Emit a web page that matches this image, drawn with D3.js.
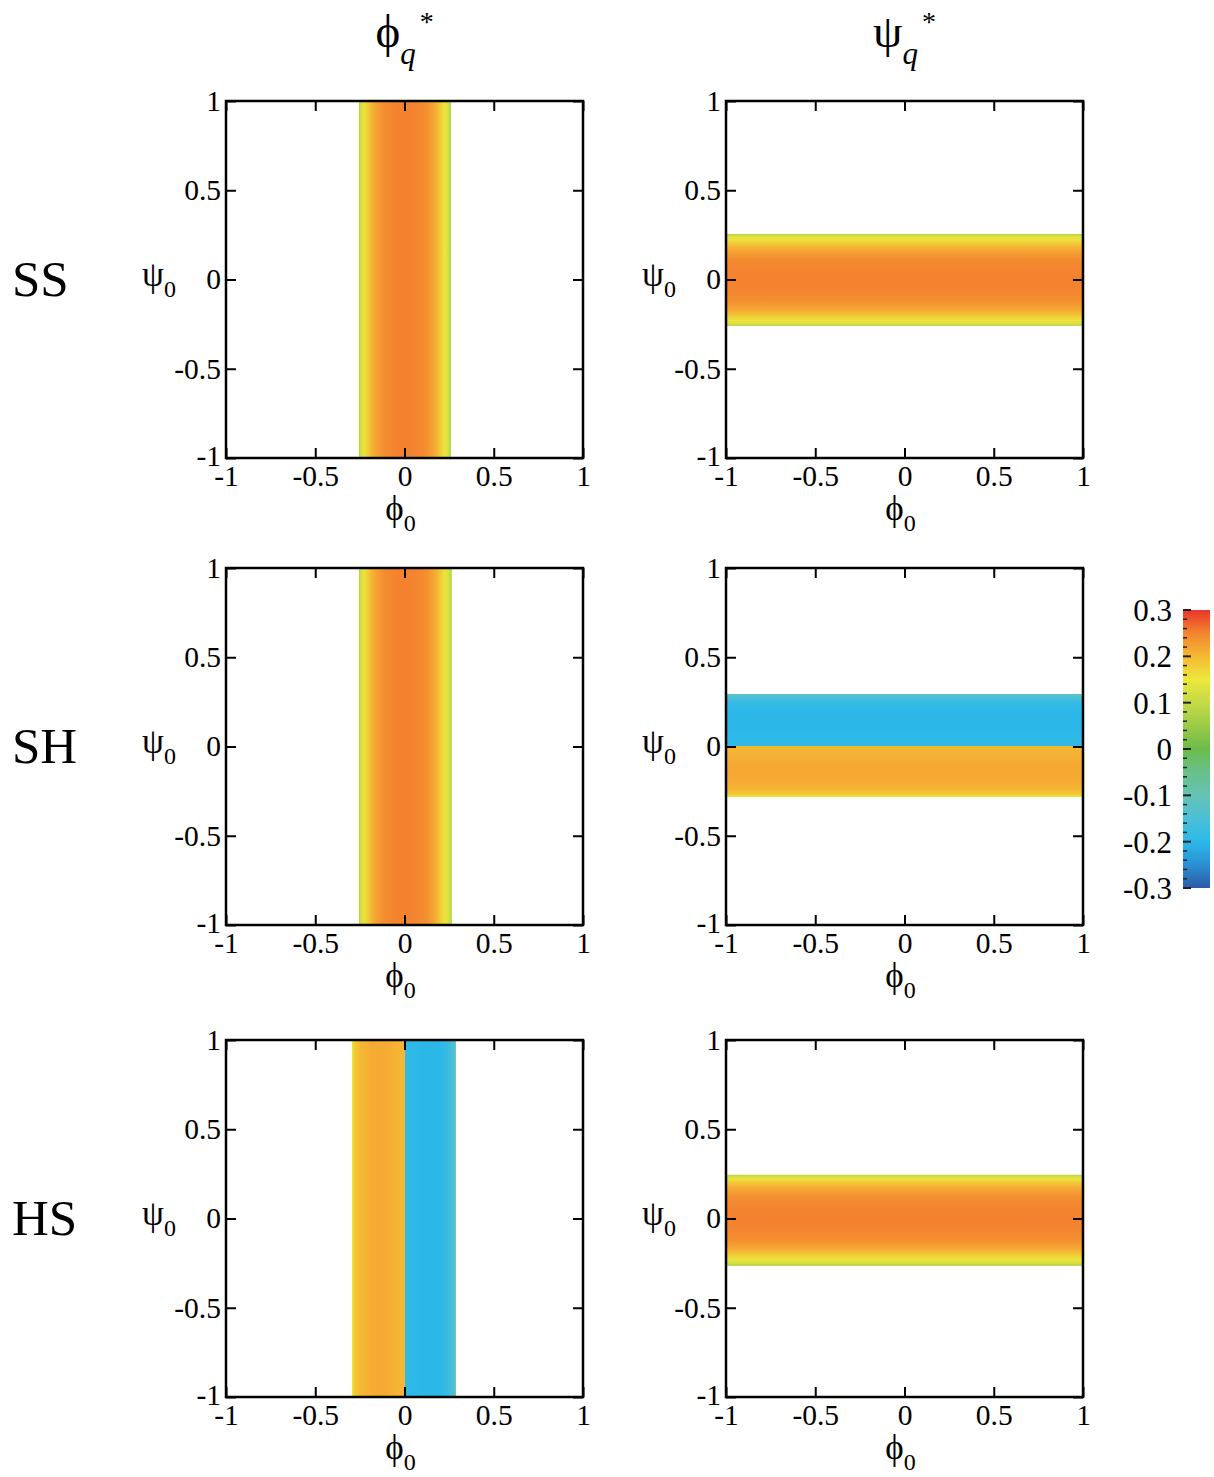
<!DOCTYPE html>
<html><head><meta charset="utf-8">
<script src="https://cdn.jsdelivr.net/npm/d3@7"></script>
<style>body{margin:0;background:#fff}svg{display:block}text{font-family:"Liberation Serif","Tinos","Times New Roman","DejaVu Serif",serif;fill:#000}</style>
</head><body>
<script>
// ---------- data ----------
const rowLabels = ["SS", "SH", "HS"];
const colSymbols = ["ϕ", "ψ"];
const axisTicks = [-1, -0.5, 0, 0.5, 1];
const axisTickLabels = ["-1", "-0.5", "0", "0.5", "1"];
const cbTicks = [-0.3, -0.2, -0.1, 0, 0.1, 0.2, 0.3];
const cbTickLabels = ["-0.3", "-0.2", "-0.1", "0", "0.1", "0.2", "0.3"];
const cbMinorTicks = [-0.28,-0.26,-0.24,-0.22,-0.18,-0.16,-0.14,-0.12,-0.08,-0.06,-0.04,-0.02,0.02,0.04,0.06,0.08,0.12,0.14,0.16,0.18,0.22,0.24,0.26,0.28];
const cmapValues = [-0.3, -0.25, -0.2, -0.15, -0.1, -0.05, 0, 0.05, 0.1, 0.15, 0.2, 0.25, 0.3];
const cmapColors = ["#2d5aa6", "#2b8fd2", "#2bb8e9", "#4cc0d6", "#65c3b5", "#68c08a", "#6cbb4b", "#9ccb47", "#c5da46", "#ece83c", "#f5b934", "#f4842f", "#e8352b"];

// band profiles: position along the varying axis (φ0 or ψ0) and value of the field
const ssPhiPos = [-0.255, -0.245, -0.225, -0.2, -0.17, -0.12, -0.06, 0, 0.06, 0.12, 0.17, 0.2, 0.225, 0.245, 0.26];
const ssPhiVal = [0.07, 0.12, 0.155, 0.185, 0.215, 0.24, 0.25, 0.252, 0.25, 0.24, 0.215, 0.185, 0.155, 0.12, 0.07];
const ssPsiPos = [-0.26, -0.25, -0.23, -0.2, -0.17, -0.12, -0.06, 0, 0.06, 0.12, 0.17, 0.2, 0.225, 0.245, 0.255];
const ssPsiVal = [0.07, 0.12, 0.155, 0.185, 0.215, 0.24, 0.25, 0.252, 0.25, 0.24, 0.215, 0.185, 0.155, 0.12, 0.07];
const shPhiPos = [-0.255, -0.245, -0.225, -0.2, -0.17, -0.12, -0.06, 0, 0.06, 0.12, 0.17, 0.2, 0.225, 0.25, 0.265];
const shPhiVal = [0.07, 0.12, 0.155, 0.185, 0.215, 0.24, 0.25, 0.252, 0.25, 0.24, 0.215, 0.185, 0.155, 0.12, 0.07];
const shPsiPos = [-0.283, -0.27, -0.24, -0.18, -0.1, 0, 0, 0.1, 0.2, 0.25, 0.275, 0.294];
const shPsiVal = [0.15, 0.18, 0.205, 0.215, 0.215, 0.2, -0.19, -0.2, -0.2, -0.18, -0.15, -0.12];
const hsPhiPos = [-0.294, -0.28, -0.25, -0.18, -0.1, 0, 0, 0.1, 0.2, 0.24, 0.27, 0.288];
const hsPhiVal = [0.15, 0.18, 0.2, 0.213, 0.213, 0.2, -0.19, -0.2, -0.2, -0.18, -0.15, -0.11];
const hsPsiPos = [-0.265, -0.25, -0.23, -0.2, -0.17, -0.12, -0.06, 0, 0.06, 0.12, 0.17, 0.2, 0.22, 0.235, 0.245];
const hsPsiVal = [0.07, 0.12, 0.155, 0.185, 0.215, 0.24, 0.25, 0.252, 0.25, 0.24, 0.215, 0.185, 0.155, 0.12, 0.07];

const panels = [
  {row: 0, col: 0, dir: "x", pos: ssPhiPos, val: ssPhiVal},
  {row: 0, col: 1, dir: "y", pos: ssPsiPos, val: ssPsiVal},
  {row: 1, col: 0, dir: "x", pos: shPhiPos, val: shPhiVal},
  {row: 1, col: 1, dir: "y", pos: shPsiPos, val: shPsiVal},
  {row: 2, col: 0, dir: "x", pos: hsPhiPos, val: hsPhiVal},
  {row: 2, col: 1, dir: "y", pos: hsPsiPos, val: hsPsiVal}
];

// ---------- layout ----------
const FONT = '"Liberation Serif","Tinos","Times New Roman","DejaVu Serif",serif';
const W = 1214, H = 1477;
const pw = 357, ph = 357;
const colX = [226, 726];
const rowY = [101, 568, 1040];

const svg = d3.select("body").append("svg").attr("width", W).attr("height", H);
const defs = svg.append("defs");
const color = d3.scaleLinear().domain(cmapValues).range(cmapColors).clamp(true);

const x = d3.scaleLinear().domain([-1, 1]).range([0, pw]);
const y = d3.scaleLinear().domain([-1, 1]).range([ph, 0]);

panels.forEach((p, i) => {
  const g = svg.append("g").attr("transform", `translate(${colX[p.col]},${rowY[p.row]})`);
  const lo = d3.min(p.pos), hi = d3.max(p.pos);
  const gid = "band" + i;
  let grad;
  if (p.dir === "x") {
    grad = defs.append("linearGradient").attr("id", gid).attr("gradientUnits", "userSpaceOnUse")
      .attr("x1", x(lo)).attr("x2", x(hi)).attr("y1", 0).attr("y2", 0);
  } else {
    grad = defs.append("linearGradient").attr("id", gid).attr("gradientUnits", "userSpaceOnUse")
      .attr("x1", 0).attr("x2", 0).attr("y1", y(lo)).attr("y2", y(hi));
  }
  p.pos.forEach((v, k) => {
    grad.append("stop").attr("offset", (v - lo) / (hi - lo)).attr("stop-color", color(p.val[k]));
  });
  if (p.dir === "x") {
    g.append("rect").attr("x", x(lo)).attr("y", 0).attr("width", x(hi) - x(lo)).attr("height", ph).attr("fill", `url(#${gid})`);
  } else {
    g.append("rect").attr("x", 0).attr("y", y(hi)).attr("width", pw).attr("height", y(lo) - y(hi)).attr("fill", `url(#${gid})`);
  }

  const fmt = (d) => axisTickLabels[axisTicks.indexOf(d)];
  const bottom = d3.axisBottom(x).tickValues(axisTicks).tickFormat(fmt).tickSizeInner(-10).tickSizeOuter(0).tickPadding(7);
  const left = d3.axisLeft(y).tickValues(axisTicks).tickFormat(fmt).tickSizeInner(-10).tickSizeOuter(0).tickPadding(5);
  const top = d3.axisTop(x).tickValues(axisTicks).tickFormat("").tickSizeInner(-10).tickSizeOuter(0);
  const right = d3.axisRight(y).tickValues(axisTicks).tickFormat("").tickSizeInner(-10).tickSizeOuter(0);
  const style = (s) => {
    s.select(".domain").remove();
    s.selectAll("line").attr("stroke", "#000").attr("stroke-width", 2);
    s.selectAll("text").style("font-size", "29.5px").style("font-family", FONT).attr("fill", "#000");
  };
  g.append("g").attr("transform", `translate(0,${ph})`).call(bottom).call(style);
  const lg = g.append("g").call(left).call(style);
  lg.selectAll(".tick text").filter(d => d === -1).attr("dy", "0.25em");
  g.append("g").call(top).call(style);
  g.append("g").attr("transform", `translate(${pw},0)`).call(right).call(style);
  g.append("rect").attr("width", pw).attr("height", ph).attr("fill", "none").attr("stroke", "#000").attr("stroke-width", 2.5);

  // axis labels
  const xl = g.append("text").attr("x", pw / 2 - 4).attr("y", ph + 62).attr("text-anchor", "middle").style("font-size", "35px");
  xl.append("tspan").text("ϕ");
  xl.append("tspan").attr("dy", 11).style("font-size", "24px").text("0");
  const yl = g.append("text").attr("x", -67).attr("y", ph / 2 + 6).attr("text-anchor", "middle").style("font-size", "35px");
  yl.append("tspan").text("ψ");
  yl.append("tspan").attr("dy", 11).style("font-size", "24px").text("0");
});

// column titles
colSymbols.forEach((s, c) => {
  const t = svg.append("text").attr("x", colX[c] + pw / 2).attr("y", 47).attr("text-anchor", "middle").style("font-size", "47px");
  t.append("tspan").text(s);
  t.append("tspan").attr("dy", 17).style("font-size", "31px").style("font-style", "italic").text("q");
  t.append("tspan").attr("dy", -33).attr("dx", 4).style("font-size", "28px").text("*");
});

// row labels
rowLabels.forEach((r, i) => {
  svg.append("text").attr("x", 12).attr("y", rowY[i] + ph / 2 + 16).style("font-size", "51px").text(r);
});

// colorbar
const cbX = 1183, cbW = 27, cbTop = 610, cbBot = 888;
const cy = d3.scaleLinear().domain([-0.3, 0.3]).range([cbBot, cbTop]);
const cg = defs.append("linearGradient").attr("id", "cbgrad").attr("gradientUnits", "userSpaceOnUse")
  .attr("x1", 0).attr("x2", 0).attr("y1", cy(-0.3)).attr("y2", cy(0.3));
cmapValues.forEach((v, k) => cg.append("stop").attr("offset", (v + 0.3) / 0.6).attr("stop-color", cmapColors[k]));
svg.append("rect").attr("x", cbX).attr("y", cbTop).attr("width", cbW).attr("height", cbBot - cbTop).attr("fill", "url(#cbgrad)");
const cbg = svg.append("g");
cbg.selectAll("line.minor").data(cbMinorTicks).enter().append("line")
  .attr("x1", cbX).attr("x2", cbX + 4).attr("y1", d => cy(d)).attr("y2", d => cy(d)).attr("stroke", "#222").attr("stroke-width", 1.5);
cbg.selectAll("line.major").data(cbTicks).enter().append("line")
  .attr("x1", cbX).attr("x2", cbX + 8).attr("y1", d => cy(d)).attr("y2", d => cy(d)).attr("stroke", "#222").attr("stroke-width", 2);
cbg.selectAll("text").data(cbTicks).enter().append("text")
  .attr("x", cbX - 11).attr("y", d => cy(d)).attr("dy", "0.35em").attr("text-anchor", "end").style("font-size", "31px")
  .text((d, k) => cbTickLabels[k]);
</script>
</body></html>
